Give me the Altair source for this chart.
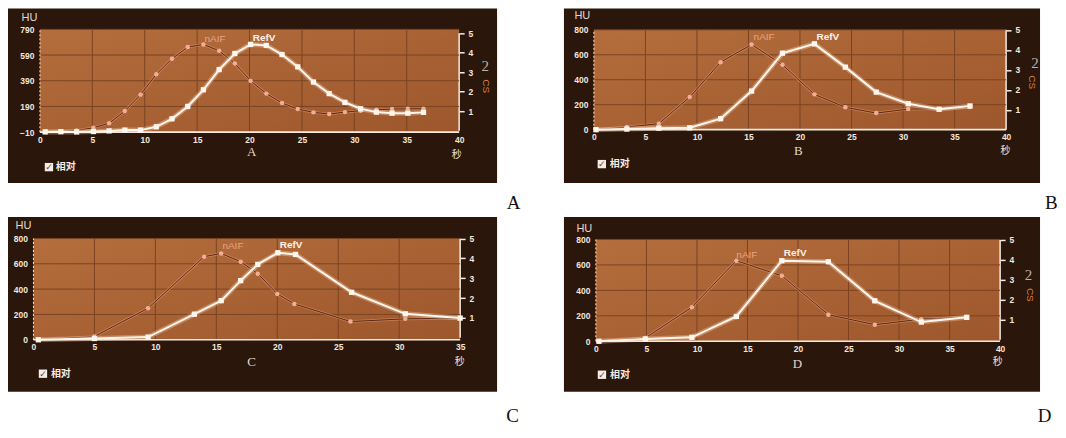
import altair as alt
import pandas as pd

# ---------------- data ----------------
A_time = [0.5, 2.0, 3.5, 5.1, 6.6, 8.1, 9.6, 11.1, 12.6, 14.1, 15.6, 17.1, 18.6,
          20.1, 21.6, 23.1, 24.6, 26.1, 27.6, 29.1, 30.6, 32.1, 33.6, 35.1, 36.6]
A_naif = [-5, -5, 3, 24, 60, 154, 282, 441, 561, 652, 673, 623, 524,
          389, 290, 217, 170, 144, 131, 146, 157, 164, 170, 172, 172]
A_refv = [-8, -6, -8, -5, 0, 6, 6, 32, 94, 190, 320, 477, 602,
          673, 665, 594, 498, 380, 290, 222, 172, 146, 138, 138, 144]

B_time = [0.2, 3.2, 6.3, 9.3, 12.3, 15.3, 18.3, 21.4, 24.4, 27.4, 30.5, 33.5, 36.5]
B_naif = [0, 21, 48, 261, 541, 683, 520, 283, 179, 133, 165, 168, 181]
B_refv = [0, 5, 12, 15, 88, 309, 613, 688, 501, 301, 208, 163, 190]

C_naif_time = [0.4, 5.0, 9.4, 14.0, 15.4, 17.0, 18.4, 20.0, 21.4, 26.0, 30.5, 35.0]
C_naif = [0, 26, 249, 656, 682, 616, 522, 362, 283, 144, 165, 171]
C_refv_time = [0.4, 5.0, 9.4, 13.2, 15.4, 17.0, 18.4, 20.05, 21.5, 26.1, 30.5, 35.0]
C_refv = [0, 10, 21, 202, 309, 467, 595, 687, 674, 375, 205, 171]

D_time = [0.3, 4.9, 9.5, 13.9, 18.4, 23.0, 27.6, 32.2, 36.7]
D_naif = [0, 26, 268, 633, 514, 209, 130, 174, 190]
D_refv = [0, 18, 31, 195, 633, 625, 318, 151, 188]

HU_TICKS_A = [-10, 190, 390, 590, 790]
HU_TICKS = [0, 200, 400, 600, 800]
SEC_TICKS_40 = [0, 5, 10, 15, 20, 25, 30, 35, 40]
SEC_TICKS_35 = [0, 5, 10, 15, 20, 25, 30, 35]
RIGHT_TICKS = [1, 2, 3, 4, 5]

SERIES_LABELS = ["nAIF", "RefV"]
CHECK_TEXT = "相对"

# ---------------- styling ----------------
FRAME = "#2a160b"
GRID = "#7a4322"
AXIS_WHITE = "#f6ebe2"
LABEL_WHITE = "#f3e6da"
NAIF_DOT = "#f2ae92"
NAIF_LINE = "#5a2813"
NAIF_HALO = "#e59a74"
REFV = "#fff6ee"
REFV_GLOW = "#ffd2ae"
BASE_FONT = "Liberation Sans"
CJK = "Noto Sans CJK SC"
SERIF = "Liberation Serif"


def dom_x(L, W, p0, p1, xmax):
    k = (p1 - p0) / xmax
    return [(L - p0) / k, (L + W - p0) / k]


def dom_y(T, H, pb, pt, vb, vt):
    k = (pb - pt) / (vt - vb)
    return [vb - (T + H - pb) / k, vb + (pb - T) / k]


panels = [
    dict(letter="A", L=8, W=490, T=8, H=175, xp0=40, xp1=460, xmax=40, xticks=SEC_TICKS_40,
         yb=132, yt=29, vb=-10, vt=790, yticks=HU_TICKS_A, rb=130.5, rt=33,
         naif_t=A_time, naif=A_naif, refv_t=A_time, refv=A_refv,
         hu=(-19, 9), sec=(449, 22),
         naif_lbl=(15.7, 712), refv_lbl=(20.3, 720), inner=(20.2, -162),
         box=(0.86, -282), box_txt=(1.5, -282), two=(42.5, 503), cs=(42.6, 347),
         outer=(45.2, -561)),
    dict(letter="B", L=565, W=477, T=8, H=175, xp0=595, xp1=1008, xmax=40, xticks=SEC_TICKS_40,
         yb=129.5, yt=29.5, vb=0, vt=800, yticks=HU_TICKS, rb=129.5, rt=29.5,
         naif_t=B_time, naif=B_naif, refv_t=B_time, refv=B_refv,
         hu=(-20, 7), sec=(442, 21),
         naif_lbl=(15.5, 740), refv_lbl=(21.6, 740), inner=(19.85, -168),
         box=(0.77, -276), box_txt=(1.55, -276), two=(42.8, 532), cs=(42.5, 380),
         outer=(44.4, -588)),
    dict(letter="C", L=8, W=490, T=217, H=175, xp0=33.5, xp1=461, xmax=35, xticks=SEC_TICKS_35,
         yb=340, yt=238.5, vb=0, vt=800, yticks=HU_TICKS, rb=338, rt=238.5,
         naif_t=C_naif_time, naif=C_naif, refv_t=C_refv_time, refv=C_refv,
         hu=(-18.5, 9), sec=(452, 21.5),
         naif_lbl=(15.5, 740), refv_lbl=(20.2, 749), inner=(17.9, -177),
         box=(0.78, -268), box_txt=(1.43, -268), two=None, cs=None,
         outer=(39.3, -600)),
    dict(letter="D", L=565, W=477, T=217, H=175, xp0=597, xp1=1002, xmax=40, xticks=SEC_TICKS_40,
         yb=341.5, yt=239.5, vb=0, vt=800, yticks=HU_TICKS, rb=340, rt=240,
         naif_t=D_time, naif=D_naif, refv_t=D_time, refv=D_refv,
         hu=(-20, 12), sec=(434, 20.5),
         naif_lbl=(13.9, 678), refv_lbl=(18.6, 694), inner=(19.95, -180),
         box=(0.6, -263), box_txt=(1.4, -263), two=(42.8, 521), cs=(43.0, 365),
         outer=(44.4, -590)),
]


def make_panel(p):
    xs = alt.Scale(domain=dom_x(p["L"], p["W"], p["xp0"], p["xp1"], p["xmax"]), nice=False, zero=False)
    ys = alt.Scale(domain=dom_y(p["T"], p["H"], p["yb"], p["yt"], p["vb"], p["vt"]), nice=False, zero=False)
    rs = alt.Scale(domain=dom_y(p["T"], p["H"], p["rb"], p["rt"], 0, 5), nice=False, zero=False)
    left_off = -(p["xp0"] - p["L"])
    bottom_off = -(p["T"] + p["H"] - p["yb"])
    right_off = -(p["L"] + p["W"] - p["xp1"])
    ymin, ymax, xmax = p["vb"], p["vt"], p["xmax"]

    def X(field="x"):
        return alt.X(f"{field}:Q", scale=xs, axis=None)

    def Y(field="y"):
        return alt.Y(f"{field}:Q", scale=ys, axis=None)

    xaxis = alt.Axis(values=p["xticks"], orient="bottom", offset=bottom_off, ticks=False, domain=False,
                     grid=False, labelPadding=3, labelFont=BASE_FONT, labelFontSize=8.5,
                     labelFontWeight="bold", labelColor=LABEL_WHITE, labelFlush=False,
                     labelOverlap=False, title="秒", titleFont=CJK, titleFontSize=10,
                     titleFontWeight="normal", titleColor=LABEL_WHITE, titleX=p["sec"][0],
                     titleY=p["sec"][1], titleAlign="center", titleBaseline="middle", titleAngle=0,
                     zindex=1)
    yaxis = alt.Axis(values=p["yticks"], orient="left", offset=left_off, ticks=False, domain=False,
                     grid=False, labelPadding=6, labelFont=BASE_FONT, labelFontSize=8.5,
                     labelFontWeight="bold", labelColor=LABEL_WHITE, labelFlush=False,
                     labelOverlap=False, title="HU", titleFont=BASE_FONT, titleFontSize=11,
                     titleFontWeight="normal", titleColor="#e6d8cc", titleAngle=0,
                     titleX=p["hu"][0], titleY=p["hu"][1], titleAlign="left",
                     titleBaseline="middle", zindex=1)

    grad = alt.LinearGradient(gradient="linear",
                              stops=[alt.GradientStop(color="#b46d3c", offset=0),
                                     alt.GradientStop(color="#a96234", offset=0.5),
                                     alt.GradientStop(color="#9c572c", offset=1)],
                              x1=0, y1=0, x2=1, y2=1)

    bg = alt.Chart(pd.DataFrame({"x": [0], "x2": [xmax], "y": [ymin], "y2": [ymax]})).mark_rect(
        fill=grad).encode(x=alt.X("x:Q", scale=xs, axis=xaxis), x2="x2:Q",
                          y=alt.Y("y:Q", scale=ys, axis=yaxis), y2="y2:Q")

    vx = [v for v in p["xticks"] if 0 < v < xmax]
    vgrid = alt.Chart(pd.DataFrame({"x": vx, "y": [ymin] * len(vx), "y2": [ymax] * len(vx)})).mark_rule(
        color=GRID, strokeWidth=1).encode(x=X(), y=Y(), y2="y2:Q")
    hy = [v for v in p["yticks"] if v > ymin]
    hgrid = alt.Chart(pd.DataFrame({"y": hy, "x": [0] * len(hy), "x2": [xmax] * len(hy)})).mark_rule(
        color=GRID, strokeWidth=1).encode(y=Y(), x=X(), x2="x2:Q")

    left_line = alt.Chart(pd.DataFrame({"x": [0], "y": [ymin], "y2": [ymax]})).mark_rule(
        color=AXIS_WHITE, strokeWidth=1, strokeDash=[2, 2]).encode(x=X(), y=Y(), y2="y2:Q")
    bottom_line = alt.Chart(pd.DataFrame({"x": [0], "x2": [xmax], "y": [ymin]})).mark_rule(
        color=AXIS_WHITE, strokeWidth=1.6).encode(x=X(), x2="x2:Q", y=Y())

    naif_df = pd.DataFrame({"x": p["naif_t"], "y": p["naif"]})
    refv_df = pd.DataFrame({"x": p["refv_t"], "y": p["refv"]})

    naif_halo = alt.Chart(naif_df).mark_line(color=NAIF_HALO, strokeWidth=2.6, opacity=0.55).encode(
        x=X(), y=Y(), order="x:Q")
    naif_line = alt.Chart(naif_df).mark_line(color=NAIF_LINE, strokeWidth=1.0).encode(
        x=X(), y=Y(), order="x:Q")
    naif_pts = alt.Chart(naif_df).mark_circle(color=NAIF_DOT, size=20, opacity=1).encode(x=X(), y=Y())

    refv_glow = alt.Chart(refv_df).mark_line(color=REFV_GLOW, strokeWidth=5, opacity=0.35).encode(
        x=X(), y=Y(), order="x:Q")
    refv_line = alt.Chart(refv_df).mark_line(color=REFV, strokeWidth=2.0).encode(
        x=X(), y=Y(), order="x:Q")
    refv_pts = alt.Chart(refv_df).mark_square(color=REFV, size=28, opacity=1).encode(x=X(), y=Y())

    def text_layer(x, y, s, **kw):
        return alt.Chart(pd.DataFrame({"x": [x], "y": [y], "s": [s]})).mark_text(**kw).encode(
            x=X(), y=Y(), text="s:N")

    raxis = alt.Axis(values=RIGHT_TICKS, orient="right", offset=right_off, ticks=True, tickSize=5,
                     tickWidth=1.5, tickColor=AXIS_WHITE, domain=False, grid=False, labelPadding=4,
                     labelFont=BASE_FONT, labelFontSize=8.5, labelFontWeight="bold",
                     labelColor=LABEL_WHITE, labelFlush=False, labelOverlap=False, title=None)
    right = alt.Chart(pd.DataFrame({"x": [xmax], "r": [0], "r2": [5]})).mark_rule(
        color=AXIS_WHITE, strokeWidth=1.5).encode(
        x=X(), y=alt.Y("r:Q", scale=rs, axis=raxis), y2="r2:Q")

    layers = [bg, right, vgrid, hgrid, left_line, bottom_line,
              naif_halo, naif_line, naif_pts, refv_glow, refv_line, refv_pts,
              text_layer(*p["naif_lbl"], SERIES_LABELS[0], align="left", baseline="middle",
                         font=BASE_FONT, fontSize=10, color="#eba283"),
              text_layer(*p["refv_lbl"], SERIES_LABELS[1], align="left", baseline="middle",
                         font=BASE_FONT, fontSize=10, fontWeight="bold", color="#fff1e6"),
              text_layer(*p["inner"], p["letter"], align="center", baseline="middle",
                         font=SERIF, fontSize=13, color="#e4d6ca"),
              alt.Chart(pd.DataFrame({"x": [p["box"][0]], "y": [p["box"][1]]})).mark_square(
                  color="#f4ece6", size=70, opacity=1).encode(x=X(), y=Y()),
              text_layer(*p["box"], "✓", align="center", baseline="middle",
                         font="DejaVu Sans", fontSize=9, fontWeight="bold", color="#6a4634"),
              text_layer(*p["box_txt"], CHECK_TEXT, align="left", baseline="middle",
                         font=CJK, fontSize=10, fontWeight="bold", color="#f4ece6"),
              text_layer(*p["outer"], p["letter"], align="center", baseline="middle",
                         font=SERIF, fontSize=19, color="#111111")]
    if p["two"] is not None:
        layers.append(text_layer(*p["two"], "2", align="center", baseline="middle",
                                 font=SERIF, fontSize=15, color="#bdb2a8"))
        layers.append(text_layer(*p["cs"], "CS", align="center", baseline="middle",
                                 font=BASE_FONT, fontSize=10, angle=90, color="#df8040"))

    return alt.layer(*layers).resolve_scale(x="independent", y="independent").properties(
        width=p["W"], height=p["H"])


chart = alt.concat(*[make_panel(p) for p in panels], columns=2,
                   spacing={"row": 34, "column": 67}, bounds="flush").properties(
    padding=0, background="white").configure_view(fill=FRAME, strokeWidth=0)

chart.save("out.html", embed_options={"renderer": "svg", "actions": False})
